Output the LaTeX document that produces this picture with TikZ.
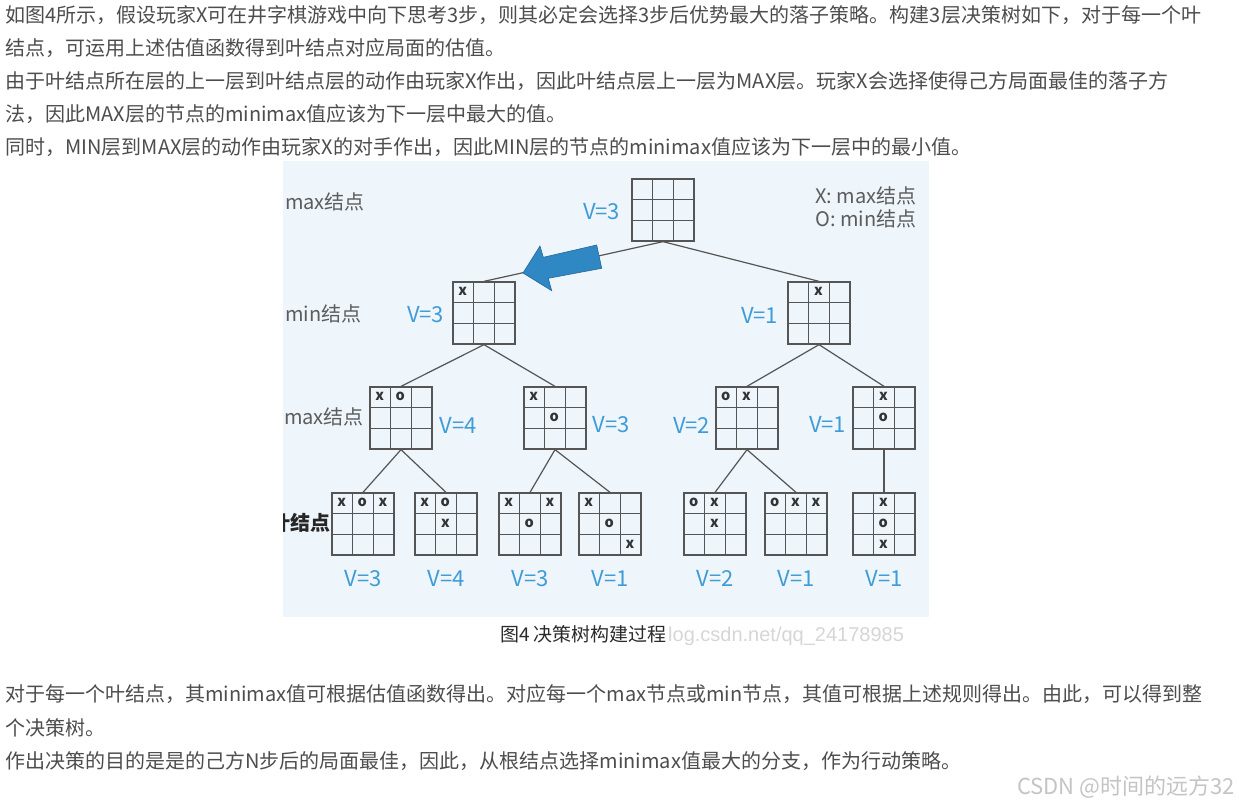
\documentclass[tikz,border=0pt]{standalone}
\usepackage{fontspec}
\setmainfont{Noto Sans CJK SC}
\newfontfamily\wmfont{Liberation Sans}
\usepackage{xcolor}
\usetikzlibrary{positioning,calc}
\definecolor{bodytext}{HTML}{4D4D4D}
\definecolor{captext}{HTML}{2B2B2B}
\definecolor{wmgray}{HTML}{D6D6D6}
\definecolor{wmdark}{HTML}{C4C4C4}
\definecolor{diagbg}{HTML}{EEF5FB}
\definecolor{gridc}{HTML}{555555}
\definecolor{valblue}{HTML}{3F9CD8}
\definecolor{lvlgray}{HTML}{5C5C5C}
\definecolor{arrfill}{HTML}{2F88C3}
\definecolor{arrdraw}{HTML}{25699A}
\newcommand{\putpiece}[4]{\node[piece] at ($(#1.north west)+({(#2+0.5)*62/3},{(#3+0.5)*62/3})$) {#4};}

\begin{document}
\begin{tikzpicture}[x=1pt,y=-1pt,
  txt/.style={anchor=base west,inner sep=0pt,text=bodytext,font=\fontsize{20}{20}\selectfont},
  board/.style={draw=gridc,line width=1.3pt,minimum size=62pt,inner sep=0pt,
    path picture={
      \foreach \f in {0.3333,0.6667}{
        \draw[gridc,line width=1.3pt]
          ($(path picture bounding box.north west)!\f!(path picture bounding box.north east)$) --
          ($(path picture bounding box.south west)!\f!(path picture bounding box.south east)$);
        \draw[gridc,line width=1.3pt]
          ($(path picture bounding box.north west)!\f!(path picture bounding box.south west)$) --
          ($(path picture bounding box.north east)!\f!(path picture bounding box.south east)$);
      }}},
  piece/.style={inner sep=0pt,text=black!80,font=\bfseries\fontsize{14.5}{14.5}\selectfont},
  val/.style={inner sep=0pt,text=valblue,font=\fontsize{22}{22}\selectfont},
  lvl/.style={inner sep=0pt,text=lvlgray,font=\fontsize{20}{20}\selectfont},
  edge/.style={draw=gridc,line width=1.2pt},
]
\useasboundingbox[fill=white] (0,0) rectangle (1239,805);

% text above the figure
\node[txt] (t1) at (5,22.5) {如图4所示，假设玩家X可在井字棋游戏中向下思考3步，则其必定会选择3步后优势最大的落子策略。构建3层决策树如下，对于每一个叶};
\node[txt] (t2) at (5,56) {结点，可运用上述估值函数得到叶结点对应局面的估值。};
\node[txt] (t3) at (5,89) {由于叶结点所在层的上一层到叶结点层的动作由玩家X作出，因此叶结点层上一层为MAX层。玩家X会选择使得己方局面最佳的落子方};
\node[txt] (t4) at (5,122) {法，因此MAX层的节点的minimax值应该为下一层中最大的值。};
\node[txt] (t5) at (5,155) {同时，MIN层到MAX层的动作由玩家X的对手作出，因此MIN层的节点的minimax值应该为下一层中的最小值。};

% figure
\fill[diagbg] (283,161) rectangle (929,617);
\node[lvl,anchor=west] (k1) at (285,202) {max结点};
\node[lvl,anchor=west] (k2) at (285,314) {min结点};
\node[lvl,anchor=west] (k3) at (284,417) {max结点};
\begin{scope}
\clip (283,161) rectangle (929,617);
\node[lvl,anchor=east,text=black!85] (k4) at (331,523) {\bfseries 叶结点};
\end{scope}
\node[lvl,anchor=west] (lg1) at (815,196) {X: max结点};
\node[lvl,anchor=west] (lg2) at (815,219) {O: min结点};

\node[board] (r)  at (663,210) {};
\node[board] (n1) at (484,313) {};
\node[board] (n2) at (819,313) {};
\node[board] (m1) at (401,418) {};
\node[board] (m2) at (555,418) {};
\node[board] (m3) at (747,418) {};
\node[board] (m4) at (884,418) {};
\node[board] (l1) at (363,524) {};
\node[board] (l2) at (446,524) {};
\node[board] (l3) at (530,524) {};
\node[board] (l4) at (610,524) {};
\node[board] (l5) at (715,524) {};
\node[board] (l6) at (796,524) {};
\node[board] (l7) at (884,524) {};

\putpiece{n1}{0}{0}{x}
\putpiece{n2}{1}{0}{x}
\putpiece{m1}{0}{0}{x} \putpiece{m1}{1}{0}{o}
\putpiece{m2}{0}{0}{x} \putpiece{m2}{1}{1}{o}
\putpiece{m3}{0}{0}{o} \putpiece{m3}{1}{0}{x}
\putpiece{m4}{1}{0}{x} \putpiece{m4}{1}{1}{o}
\putpiece{l1}{0}{0}{x} \putpiece{l1}{1}{0}{o} \putpiece{l1}{2}{0}{x}
\putpiece{l2}{0}{0}{x} \putpiece{l2}{1}{0}{o} \putpiece{l2}{1}{1}{x}
\putpiece{l3}{0}{0}{x} \putpiece{l3}{2}{0}{x} \putpiece{l3}{1}{1}{o}
\putpiece{l4}{0}{0}{x} \putpiece{l4}{1}{1}{o} \putpiece{l4}{2}{2}{x}
\putpiece{l5}{0}{0}{o} \putpiece{l5}{1}{0}{x} \putpiece{l5}{1}{1}{x}
\putpiece{l6}{0}{0}{o} \putpiece{l6}{1}{0}{x} \putpiece{l6}{2}{0}{x}
\putpiece{l7}{1}{0}{x} \putpiece{l7}{1}{1}{o} \putpiece{l7}{1}{2}{x}

\draw[edge] (r.south) -- (n1.north);
\draw[edge] (r.south) -- (n2.north);
\draw[edge] (n1.south) -- (m1.north);
\draw[edge] (n1.south) -- (m2.north);
\draw[edge] (n2.south) -- (m3.north);
\draw[edge] (n2.south) -- (m4.north);
\draw[edge] (m1.south) -- (l1.north);
\draw[edge] (m1.south) -- (l2.north);
\draw[edge] (m2.south) -- (l3.north);
\draw[edge] (m2.south) -- (l4.north);
\draw[edge] (m3.south) -- (l5.north);
\draw[edge] (m3.south) -- (l6.north);
\draw[edge] (m4.south) -- (l7.north);

% big blue arrow
\filldraw[fill=arrfill,draw=arrdraw,line width=0.6pt,line join=miter]
  (523,273) -- (540,246) -- (543.3,257.3) -- (596.7,245) -- (601.7,268.3)
  -- (548.3,278.3) -- (551.7,290.7) -- cycle;

\node[val,left=11pt of r,yshift=-2pt] (vr) {V=3};
\node[val,left=8pt of n1,yshift=-2pt] (vn1) {V=3};
\node[val,left=9pt of n2,yshift=-2pt] (vn2) {V=1};
\node[val,right=7pt of m1,yshift=-7pt] (vm1) {V=4};
\node[val,right=6pt of m2,yshift=-7pt] (vm2) {V=3};
\node[val,left=5pt of m3,yshift=-7pt] (vm3) {V=2};
\node[val,left=6pt of m4,yshift=-6pt] (vm4) {V=1};
\node[val,below=15pt of l1] (vl1) {V=3};
\node[val,below=15pt of l2] (vl2) {V=4};
\node[val,below=15pt of l3] (vl3) {V=3};
\node[val,below=15pt of l4] (vl4) {V=1};
\node[val,below=15pt of l5] (vl5) {V=2};
\node[val,below=15pt of l6] (vl6) {V=1};
\node[val,below=15pt of l7] (vl7) {V=1};

% caption
\node[anchor=base west,inner sep=0pt,text=wmgray,font=\wmfont\fontsize{20}{20}\selectfont] (wm1) at (668,641) {log.csdn.net/qq\_24178985};
\node[anchor=base east,inner sep=0pt,text=captext,font=\fontsize{19}{19}\selectfont] (cap) at (667,641) {图4\hspace{4pt}决策树构建过程};

% text below the figure
\node[txt] (b1) at (5,701.5) {对于每一个叶结点，其minimax值可根据估值函数得出。对应每一个max节点或min节点，其值可根据上述规则得出。由此，可以得到整};
\node[txt] (b2) at (5,735) {个决策树。};
\node[txt] (b3) at (5,768.5) {作出决策的目的是是的己方N步后的局面最佳，因此，从根结点选择minimax值最大的分支，作为行动策略。};
\node[anchor=base east,inner sep=0pt,text=wmdark,font=\fontsize{22}{22}\selectfont] (wm2) at (1235,794) {CSDN @时间的远方32};
\end{tikzpicture}
\end{document}
